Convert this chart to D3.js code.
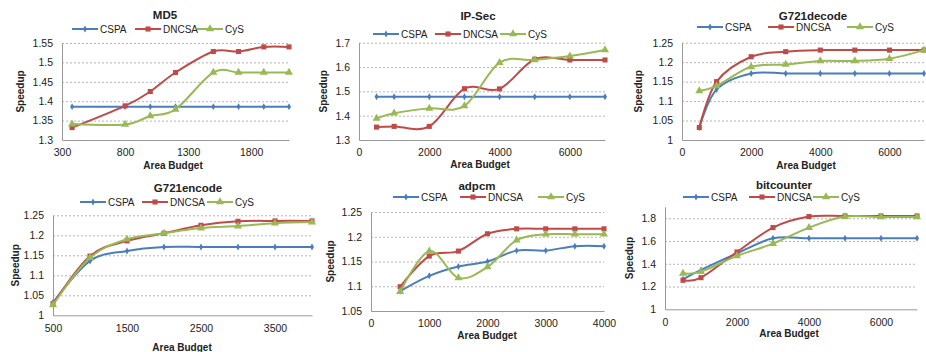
<!DOCTYPE html>
<html>
<head>
<meta charset="utf-8">
<script src="https://cdn.jsdelivr.net/npm/d3@7"></script>
<style>
  body { margin: 0; background: #fff; }
  text { font-family: "Liberation Sans", Arial, sans-serif; fill: #222; }
</style>
</head>
<body>
<script>
// series names
const seriesNames = ["CSPA", "DNCSA", "CyS"];

// MD5
const md5Budget = [380, 800, 1000, 1200, 1500, 1700, 1900, 2100];
const md5CSPA   = [1.386, 1.386, 1.386, 1.386, 1.386, 1.386, 1.386, 1.386];
const md5DNCSA  = [1.332, 1.388, 1.425, 1.474, 1.528, 1.528, 1.540, 1.540];
const md5CyS    = [1.341, 1.340, 1.362, 1.379, 1.474, 1.474, 1.474, 1.474];
const md5XTicks = [300, 800, 1300, 1800];
const md5YTicks = [1.3, 1.35, 1.4, 1.45, 1.5, 1.55];

// IP-Sec
const ipBudget = [500, 1000, 2000, 3000, 4000, 5000, 6000, 7000];
const ipCSPA   = [1.478, 1.478, 1.478, 1.478, 1.478, 1.478, 1.478, 1.478];
const ipDNCSA  = [1.353, 1.356, 1.356, 1.511, 1.510, 1.632, 1.629, 1.629];
const ipCyS    = [1.389, 1.410, 1.430, 1.440, 1.618, 1.629, 1.645, 1.670];
const ipXTicks = [0, 2000, 4000, 6000];
const ipYTicks = [1.3, 1.4, 1.5, 1.6, 1.7];

// G721decode
const decBudget = [500, 1000, 2000, 3000, 4000, 5000, 6000, 7000];
const decCSPA   = [1.032, 1.130, 1.171, 1.171, 1.171, 1.171, 1.171, 1.171];
const decDNCSA  = [1.032, 1.150, 1.214, 1.227, 1.231, 1.231, 1.231, 1.231];
const decCyS    = [1.126, 1.139, 1.188, 1.194, 1.203, 1.203, 1.209, 1.231];
const decXTicks = [0, 2000, 4000, 6000];
const decYTicks = [1, 1.05, 1.1, 1.15, 1.2, 1.25];

// G721encode
const encBudget = [500, 1000, 1500, 2000, 2500, 3000, 3500, 4000];
const encCSPA   = [1.032, 1.136, 1.161, 1.171, 1.171, 1.171, 1.171, 1.171];
const encDNCSA  = [1.029, 1.148, 1.186, 1.205, 1.225, 1.235, 1.236, 1.236];
const encCyS    = [1.026, 1.144, 1.190, 1.205, 1.218, 1.223, 1.230, 1.233];
const encXTicks = [500, 1500, 2500, 3500];
const encYTicks = [1, 1.05, 1.1, 1.15, 1.2, 1.25];

// adpcm
const adBudget = [500, 1000, 1500, 2000, 2500, 3000, 3500, 4000];
const adCSPA   = [1.090, 1.121, 1.140, 1.150, 1.172, 1.172, 1.181, 1.181];
const adDNCSA  = [1.099, 1.161, 1.171, 1.206, 1.216, 1.216, 1.216, 1.216];
const adCyS    = [1.089, 1.171, 1.117, 1.139, 1.193, 1.205, 1.205, 1.205];
const adXTicks = [0, 1000, 2000, 3000, 4000];
const adYTicks = [1.05, 1.1, 1.15, 1.2, 1.25];

// bitcounter
const bitBudget = [500, 1000, 2000, 3000, 4000, 5000, 6000, 7000];
const bitCSPA   = [1.264, 1.346, 1.492, 1.624, 1.624, 1.624, 1.624, 1.624];
const bitDNCSA  = [1.255, 1.278, 1.504, 1.718, 1.815, 1.820, 1.820, 1.820];
const bitCyS    = [1.316, 1.331, 1.469, 1.577, 1.718, 1.815, 1.812, 1.812];
const bitXTicks = [0, 2000, 4000, 6000];
const bitYTicks = [1, 1.2, 1.4, 1.6, 1.8];

const panels = [
  {title: "MD5",        budget: md5Budget, series: [md5CSPA, md5DNCSA, md5CyS], xDomain: [300, 2100], yDomain: [1.3, 1.55], xTicks: md5XTicks, yTicks: md5YTicks},
  {title: "IP-Sec",     budget: ipBudget,  series: [ipCSPA, ipDNCSA, ipCyS],    xDomain: [0, 7000],   yDomain: [1.3, 1.7],  xTicks: ipXTicks,  yTicks: ipYTicks},
  {title: "G721decode", budget: decBudget, series: [decCSPA, decDNCSA, decCyS], xDomain: [0, 7000],   yDomain: [1, 1.25],   xTicks: decXTicks, yTicks: decYTicks},
  {title: "G721encode", budget: encBudget, series: [encCSPA, encDNCSA, encCyS], xDomain: [500, 4000], yDomain: [1, 1.25],   xTicks: encXTicks, yTicks: encYTicks},
  {title: "adpcm",      budget: adBudget,  series: [adCSPA, adDNCSA, adCyS],    xDomain: [0, 4000],   yDomain: [1.05, 1.25], xTicks: adXTicks, yTicks: adYTicks},
  {title: "bitcounter", budget: bitBudget, series: [bitCSPA, bitDNCSA, bitCyS], xDomain: [0, 7000],   yDomain: [1, 1.9],    xTicks: bitXTicks, yTicks: bitYTicks}
];

// pixel layout of each panel
const layouts = [
  {left: 62,  right: 289, top: 43,  bottom: 140, titleX: 165, titleY: 15, legendY: 29,  legendX: [72, 135, 197],  xLabelX: 173, xLabelY: 165, yLabelX: 20},
  {left: 359, right: 605, top: 42.7, bottom: 140, titleX: 478, titleY: 16, legendY: 34, legendX: [373, 435, 500], xLabelX: 480, xLabelY: 164, yLabelX: 323},
  {left: 682, right: 924, top: 42.7, bottom: 140, titleX: 813, titleY: 16, legendY: 27, legendX: [697, 768, 847], xLabelX: 806, xLabelY: 165, yLabelX: 638},
  {left: 53,  right: 312, top: 215.3, bottom: 315.3, titleX: 188, titleY: 188, legendY: 202, legendX: [80, 142, 207], xLabelX: 182, xLabelY: 347, yLabelX: 15},
  {left: 371, right: 604, top: 212, bottom: 311, titleX: 477, titleY: 186, legendY: 197, legendX: [393, 460, 538], xLabelX: 487, xLabelY: 335, yLabelX: 330},
  {left: 665, right: 917, top: 206.9, bottom: 309.3, titleX: 784, titleY: 185, legendY: 197, legendX: [683, 749, 813], xLabelX: 789, xLabelY: 333, yLabelX: 629}
];

const colors = ["#4a7ebb", "#be4b48", "#98b954"];
const symbols = [d3.symbolDiamond, d3.symbolSquare, d3.symbolTriangle];
const symbolSizes = [14, 26, 28];
const fmt = v => String(+v.toFixed(2));

const svg = d3.select("body").append("svg")
    .attr("width", 926)
    .attr("height", 352);

panels.forEach(function (p, i) {
    const L = layouts[i];
    const x = d3.scaleLinear().domain(p.xDomain).range([L.left, L.right]);
    const y = d3.scaleLinear().domain(p.yDomain).range([L.bottom, L.top]);
    const g = svg.append("g");

    // dashed gridlines (not at the bottom)
    g.append("g")
        .attr("transform", `translate(${L.left},0)`)
        .call(d3.axisLeft(y).tickValues(p.yTicks.slice(1)).tickSize(-(L.right - L.left)).tickFormat(""))
        .call(a => a.select(".domain").remove())
        .selectAll("line")
        .attr("stroke", "#b5b5b5")
        .attr("stroke-dasharray", "2,2");

    // y axis
    const ya = g.append("g")
        .attr("transform", `translate(${L.left},0)`)
        .call(d3.axisLeft(y).tickValues(p.yTicks).tickSize(0).tickPadding(9).tickFormat(fmt));
    ya.select(".domain").attr("stroke", "#999");
    ya.selectAll("text").attr("font-size", 10.5).style("font-family", "'Liberation Sans', Arial, sans-serif").attr("fill", "#222");

    // x axis
    const xa = g.append("g")
        .attr("transform", `translate(0,${L.bottom})`)
        .call(d3.axisBottom(x).tickValues(p.xTicks).tickSize(0).tickPadding(9).tickFormat(d3.format("d")));
    xa.select(".domain").attr("stroke", "#999");
    xa.selectAll("text").attr("font-size", 10.5).style("font-family", "'Liberation Sans', Arial, sans-serif").attr("fill", "#222");

    // lines
    p.series.forEach(function (vals, s) {
        const pts = p.budget.map((b, k) => [b, vals[k]]);
        g.append("path")
            .datum(pts)
            .attr("fill", "none")
            .attr("stroke", colors[s])
            .attr("stroke-width", 2)
            .attr("d", d3.line()
                .x(d => x(d[0]))
                .y(d => y(d[1]))
                .curve(d3.curveCardinal.tension(0)));

        g.selectAll(null)
            .data(pts)
            .join("path")
            .attr("transform", d => `translate(${x(d[0])},${y(d[1])})`)
            .attr("d", d3.symbol(symbols[s], symbolSizes[s]))
            .attr("fill", colors[s]);
    });

    // title
    g.append("text")
        .attr("x", L.titleX)
        .attr("y", L.titleY)
        .attr("dy", "0.35em")
        .attr("text-anchor", "middle")
        .attr("font-size", 11.5)
        .attr("font-weight", "bold")
        .text(p.title);

    // legend
    seriesNames.forEach(function (name, s) {
        const lx = L.legendX[s];
        g.append("line")
            .attr("x1", lx).attr("x2", lx + 26)
            .attr("y1", L.legendY).attr("y2", L.legendY)
            .attr("stroke", colors[s])
            .attr("stroke-width", 2);
        g.append("path")
            .attr("transform", `translate(${lx + 13},${L.legendY})`)
            .attr("d", d3.symbol(symbols[s], symbolSizes[s]))
            .attr("fill", colors[s]);
        g.append("text")
            .attr("x", lx + 28)
            .attr("y", L.legendY)
            .attr("dy", "0.35em")
            .attr("font-size", 10)
            .text(name);
    });

    // axis titles
    g.append("text")
        .attr("x", L.xLabelX)
        .attr("y", L.xLabelY)
        .attr("dy", "0.35em")
        .attr("text-anchor", "middle")
        .attr("font-size", 10)
        .attr("font-weight", "bold")
        .text("Area Budget");

    g.append("text")
        .attr("transform", `translate(${L.yLabelX},${(L.top + L.bottom) / 2}) rotate(-90)`)
        .attr("dy", "0.35em")
        .attr("text-anchor", "middle")
        .attr("font-size", 10)
        .attr("font-weight", "bold")
        .text("Speedup");
});
</script>
</body>
</html>
